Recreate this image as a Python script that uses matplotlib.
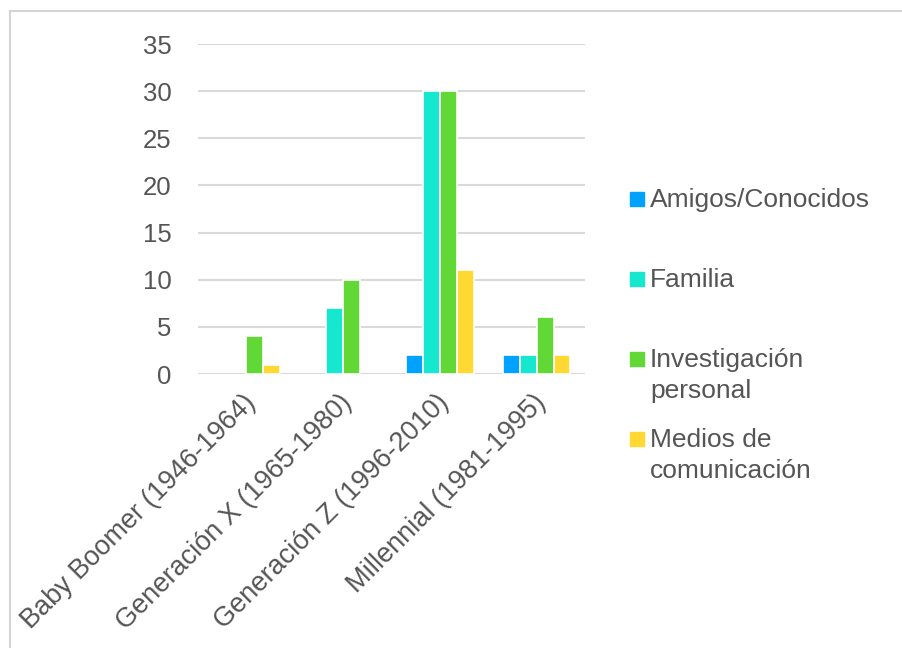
import matplotlib
matplotlib.use("Agg")
import matplotlib.pyplot as plt
import matplotlib.transforms as mtransforms
import numpy as np
from matplotlib.lines import Line2D
from matplotlib.patches import Rectangle

categories = ["Baby Boomer (1946-1964)", "Generación X (1965-1980)",
              "Generación Z (1996-2010)", "Millennial (1981-1995)"]
series = ["Amigos/Conocidos", "Familia", "Investigación\npersonal",
          "Medios de\ncomunicación"]
amigos = [0, 0, 2, 2]
familia = [0, 7, 30, 2]
investigacion = [4, 10, 30, 6]
medios = [1, 0, 11, 2]
values = [amigos, familia, investigacion, medios]
colors = ["#00A2FF", "#16E7CF", "#61D836", "#FFD932"]
yticks = [0, 5, 10, 15, 20, 25, 30, 35]

plt.rcParams["font.family"] = ["Liberation Sans", "DejaVu Sans"]
text_color = "#555555"
W, H = 903, 648

fig = plt.figure(figsize=(W / 100, H / 100), dpi=100)
ax = fig.add_axes([198 / W, 1 - 374 / H, (585 - 198) / W, (374 - 44) / H])

x = np.arange(len(categories))
w = 0.175
for i, (vals, col) in enumerate(zip(values, colors)):
    # no white outline on empty bars so the baseline stays unbroken
    lws = [1.2 if v > 0 else 0 for v in vals]
    ax.bar(x + (i - 1.5) * w, vals, width=w, color=col, edgecolor="white",
           linewidth=lws, zorder=3)

ax.set_xlim(-0.5, len(categories) - 0.5)
ax.set_ylim(0, 35)
ax.set_yticks(yticks)
ax.yaxis.grid(True, color="#d9d9d9", linewidth=1.5, zorder=0)
ax.set_axisbelow(True)
for s in ax.spines.values():
    s.set_visible(False)
ax.axhline(0, color="#d9d9d9", linewidth=1.5, zorder=1)

ax.set_xticks(x)
ax.set_xticklabels(categories, rotation=45, ha="right", va="top",
                   rotation_mode="anchor")
ax.tick_params(axis="x", length=0, pad=11, labelsize=19.5, labelcolor=text_color)
ax.tick_params(axis="y", length=0, pad=19, labelsize=18.5, labelcolor=text_color)
shift = mtransforms.ScaledTranslation(-3 / 72, 0, fig.dpi_scale_trans)
for lab in ax.get_xticklabels():
    lab.set_transform(lab.get_transform() + shift)

# legend on the right, drawn by hand to match spacing
line_centers = [199, 279, 358.5, 438.5]
for label, col, yc in zip(series, colors, line_centers):
    fig.add_artist(Rectangle((630 / W, 1 - (yc + 7) / H), 14 / W, 14 / H,
                             transform=fig.transFigure, color=col))
    nlines = label.count("\n") + 1
    ymid = yc + (nlines - 1) * 16
    fig.text(650 / W, 1 - (ymid + 1) / H, label, ha="left", va="center",
             fontsize=19, color=text_color, linespacing=1.36)

# thin frame on top and left
fig.add_artist(Line2D([10 / W, 10 / W], [1 - 11 / H, 0], color="#d4d4d4",
                      linewidth=1.5, transform=fig.transFigure))
fig.add_artist(Line2D([10 / W, 1], [1 - 11 / H, 1 - 11 / H], color="#d4d4d4",
                      linewidth=1.5, transform=fig.transFigure))

fig.savefig("out.png", dpi=100)
